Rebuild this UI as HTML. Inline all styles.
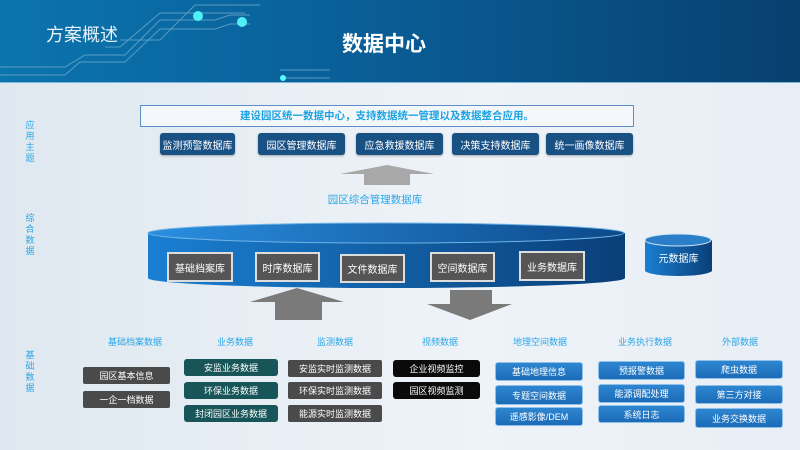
<!DOCTYPE html>
<html><head><meta charset="utf-8"><style>
*{margin:0;padding:0;box-sizing:border-box}
body{width:800px;height:450px;overflow:hidden;position:relative;background:linear-gradient(90deg,#dfe8f0,#eef3f8 60%,#e8eef5);font-family:"Liberation Sans","Noto Sans CJK SC",sans-serif}
.a{position:absolute}
.hdr{left:0;top:0;width:800px;height:83px;background:linear-gradient(90deg,#0b74ad 0%,#0a5e98 45%,#08406f 100%);border-bottom:1px solid #7fb6d8}
.b{position:absolute;display:flex;align-items:center;justify-content:center;font-size:10px;color:#fff;border-radius:3px}
.d{background:#1a5185;box-shadow:0 1px 2px rgba(0,0,0,.3)}
.g{background:#4a4a4a;border-radius:2px}
.t{background:#175558}
.k{background:#0a0a0a}
.bl{background:linear-gradient(#2f86d0,#1c6cb8);border:1px solid #8ec0ea}
.ib{background:#555;border:2px solid #ddd;border-radius:0;font-size:10px}
.lab{position:absolute;color:#2aa7e8;font-size:9px;text-align:center}
.side{position:absolute;left:24px;width:12px;color:#2aa7e8;font-size:9px;line-height:11px;text-align:center}
</style></head><body>
<div class="a hdr"></div>
<svg class="a" style="left:0;top:0" width="800" height="90">
<g stroke="#6aa9cc" stroke-width="1" fill="none" opacity=".8">
<polyline points="120,40 160,40 195,5 260,5"/>
<polyline points="105,47 120,47 160,13 245,13"/>
<polyline points="0,67 65,67 85,55 125,55 160,20 215,20 230,15 250,15"/>
<polyline points="0,75 65,75 80,62 125,62 160,29 215,29 230,24 250,24"/>
<polyline points="280,70 330,70"/><polyline points="280,78 330,78"/>
</g>
<circle cx="198" cy="16" r="5" fill="#5ff" opacity=".9"/><circle cx="242" cy="22" r="5" fill="#5ff" opacity=".9"/>
<circle cx="283" cy="78" r="3" fill="#5ff"/>
</svg>
<div class="a" style="left:46px;top:21px;color:#e8f2fa;font-size:18px">方案概述</div>
<div class="a" style="left:342px;top:28px;color:#fff;font-size:21px;font-weight:bold">数据中心</div>

<div class="side" style="top:120px">应用主题</div>
<div class="side" style="top:213px">综合数据</div>
<div class="side" style="top:350px">基础数据</div>

<div class="a" style="left:140px;top:105px;width:494px;height:22px;border:1px solid #5b8fc6;background:#f4f8fc;color:#1ea2e0;font-size:10.5px;font-weight:bold;text-align:center;line-height:20px">建设园区统一数据中心，支持数据统一管理以及数据整合应用。</div>
<div class="b d" style="left:160px;top:133px;width:75px;height:22px">监测预警数据库</div>
<div class="b d" style="left:258px;top:133px;width:87px;height:22px">园区管理数据库</div>
<div class="b d" style="left:356px;top:133px;width:87px;height:22px">应急救援数据库</div>
<div class="b d" style="left:452px;top:133px;width:87px;height:22px">决策支持数据库</div>
<div class="b d" style="left:546px;top:133px;width:87px;height:22px">统一画像数据库</div>

<svg class="a" style="left:0;top:0" width="800" height="450">
<polygon points="387,165 434,174 410,174 410,185 364,185 364,174 340,174" fill="#a8a8a8"/>
<defs><linearGradient id="cy" x1="0" x2="1"><stop offset="0" stop-color="#1a7fd2"/><stop offset="1" stop-color="#0a3f78"/></linearGradient>
<linearGradient id="ct" x1="0" x2="1"><stop offset="0" stop-color="#2a8ee0"/><stop offset="1" stop-color="#0c4a8a"/></linearGradient></defs>
<path d="M148,233 L148,278 A238,10 0 0 0 625,278 L625,233 Z" fill="url(#cy)"/>
<ellipse cx="386" cy="233" rx="238" ry="10" fill="url(#ct)" stroke="#6fb3e6" stroke-width="1"/>
<path d="M645,240 L645,271 A34,6 0 0 0 712,271 L712,240 Z" fill="url(#cy)"/>
<ellipse cx="678" cy="240" rx="33" ry="6" fill="#2a7fc8" stroke="#cfe4f5"/>
<polygon points="297,288 344,302 322,302 322,320 275,320 275,302 250,302" fill="#7a7a7a"/>
<polygon points="450,290 492,290 492,304 512,304 470,320 427,304 450,304" fill="#7a7a7a"/>
</svg>
<div class="lab" style="left:275px;top:192px;width:200px;font-size:10.5px">园区综合管理数据库</div>
<div class="b" style="left:645px;top:248px;width:67px;height:18px;font-size:10px">元数据库</div>
<div class="b ib" style="left:167px;top:252px;width:66px;height:30px">基础档案库</div>
<div class="b ib" style="left:255px;top:252px;width:65px;height:30px">时序数据库</div>
<div class="b ib" style="left:340px;top:254px;width:65px;height:29px">文件数据库</div>
<div class="b ib" style="left:430px;top:252px;width:65px;height:30px">空间数据库</div>
<div class="b ib" style="left:519px;top:251px;width:66px;height:30px">业务数据库</div>

<div class="lab" style="left:95px;top:335px;width:80px">基础档案数据</div>
<div class="lab" style="left:195px;top:335px;width:80px">业务数据</div>
<div class="lab" style="left:295px;top:335px;width:80px">监测数据</div>
<div class="lab" style="left:400px;top:335px;width:80px">视频数据</div>
<div class="lab" style="left:500px;top:335px;width:80px">地理空间数据</div>
<div class="lab" style="left:605px;top:335px;width:80px">业务执行数据</div>
<div class="lab" style="left:700px;top:335px;width:80px">外部数据</div>

<div class="b g" style="left:83px;top:367px;width:87px;height:17px;font-size:9px">园区基本信息</div>
<div class="b g" style="left:83px;top:391px;width:87px;height:17px;font-size:9px">一企一档数据</div>
<div class="b t" style="left:184px;top:359px;width:94px;height:17px;font-size:9px">安监业务数据</div>
<div class="b t" style="left:184px;top:382px;width:94px;height:17px;font-size:9px">环保业务数据</div>
<div class="b t" style="left:184px;top:405px;width:94px;height:17px;font-size:9px">封闭园区业务数据</div>
<div class="b g" style="left:288px;top:360px;width:94px;height:17px;font-size:9px">安监实时监测数据</div>
<div class="b g" style="left:288px;top:382px;width:94px;height:17px;font-size:9px">环保实时监测数据</div>
<div class="b g" style="left:288px;top:405px;width:94px;height:17px;font-size:9px">能源实时监测数据</div>
<div class="b k" style="left:393px;top:360px;width:87px;height:17px;font-size:9px">企业视频监控</div>
<div class="b k" style="left:393px;top:382px;width:87px;height:17px;font-size:9px">园区视频监测</div>
<div class="b bl" style="left:495px;top:362px;width:88px;height:19px;font-size:9px">基础地理信息</div>
<div class="b bl" style="left:495px;top:385px;width:88px;height:20px;font-size:9px">专题空间数据</div>
<div class="b bl" style="left:495px;top:407px;width:88px;height:19px;font-size:9px">遥感影像/DEM</div>
<div class="b bl" style="left:598px;top:361px;width:87px;height:19px;font-size:9px">预报警数据</div>
<div class="b bl" style="left:598px;top:384px;width:87px;height:19px;font-size:9px">能源调配处理</div>
<div class="b bl" style="left:598px;top:405px;width:87px;height:18px;font-size:9px">系统日志</div>
<div class="b bl" style="left:695px;top:360px;width:88px;height:19px;font-size:9px">爬虫数据</div>
<div class="b bl" style="left:695px;top:385px;width:88px;height:19px;font-size:9px">第三方对接</div>
<div class="b bl" style="left:695px;top:408px;width:88px;height:20px;font-size:9px">业务交换数据</div>
</body></html>
